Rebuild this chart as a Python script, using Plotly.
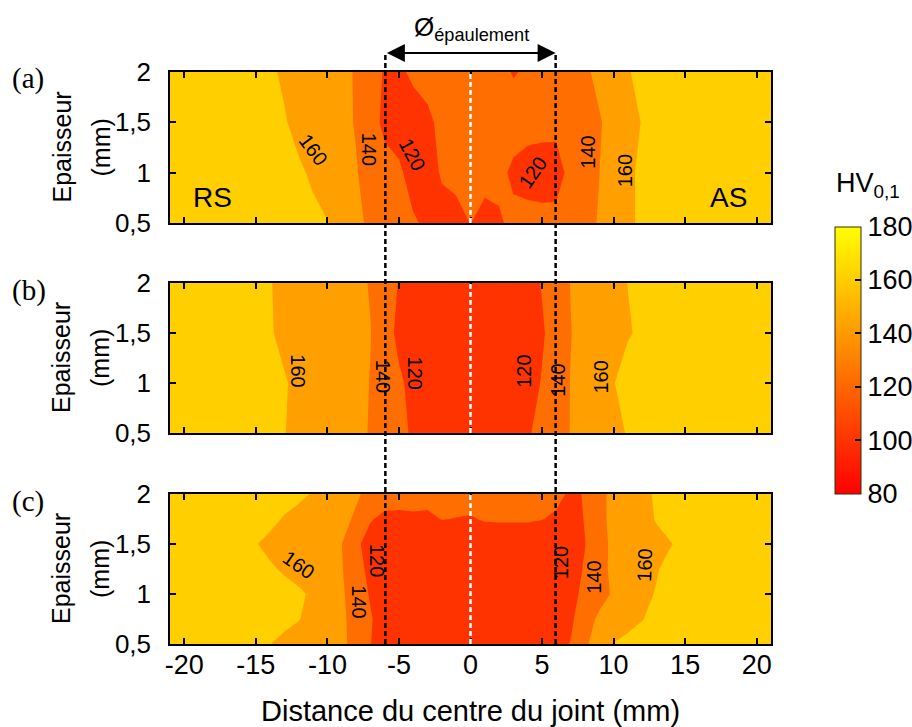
import plotly.graph_objects as go

# ---------------- data ----------------
XS = [-21, -17, -15, -14, -13, -12, -11, -10, -9, -8, -7, -6, -5, -4, -3, -2, -1, 0,
      1, 2, 3, 4, 5, 6, 7, 8, 9, 10, 11, 12, 13, 14, 15, 17, 21]
Y_AB = [0.5, 1.0, 1.5, 2.0]
Y_C = [0.5, 0.75, 1.0, 1.25, 1.5, 1.75, 2.0]

# (a)
HV_A_05 = [172, 171, 169, 168, 167, 165, 163, 160.5, 156, 145, 136, 131, 126, 122, 117, 113, 114, 120.5,
           112, 118, 124, 126, 126, 126, 130, 136, 141, 150, 158, 162, 166, 168, 170, 171, 172]
HV_A_10 = [172, 170, 167, 165, 163, 162, 158, 153, 147, 141, 134, 128, 123, 113, 112, 122, 125, 128,
           128, 124, 117, 113, 111, 112, 126, 134, 139.8, 149, 156, 164, 167, 169, 170, 171, 172]
HV_A_15 = [172, 170, 166, 164, 161, 156, 151, 147, 144, 139, 129, 115, 112, 110, 116, 125, 128, 129,
           129, 128, 127, 126, 126, 125, 130, 134, 139, 144, 152, 161, 166, 168, 170, 171, 172]
HV_A_20 = [172, 170, 166, 162, 158, 154, 150, 146, 143, 139, 131, 118, 116, 124, 127, 128, 128, 128,
           127, 124, 119, 122, 126, 130, 134, 138, 143, 151, 159, 164, 167, 168, 170, 171, 172]

# (b)
HV_B_05 = [172, 170, 166, 163, 160.3, 157, 154, 151, 148, 144, 139, 133, 126, 117, 110, 107, 106, 106,
           106, 108, 112, 118, 126, 133, 140.5, 146, 151, 156, 161, 164, 167, 169, 170, 171, 172]
HV_B_10 = [172, 170, 166, 164, 161, 157, 154, 152, 149, 145, 139.5, 132, 124, 113, 108, 106, 105, 105,
           105, 106, 108, 113, 121, 131, 140.5, 147, 153, 159.5, 165, 167, 168, 169, 170, 171, 172]
HV_B_15 = [172, 170, 165, 161, 157, 155, 153, 151, 148, 145, 140.5, 131, 114, 109, 106, 105, 104, 104,
           104, 105, 107, 111, 118, 128, 139.5, 146, 151, 155, 159, 162, 166, 168, 170, 171, 172]
HV_B_20 = [172, 170, 166, 160.5, 157, 155, 153, 151, 148, 144, 139, 130, 119, 112, 108, 106, 105, 105,
           105, 106, 108, 113, 121, 131, 140.5, 146, 151, 155, 160.2, 164, 167, 169, 170, 171, 172]

# (c)
HV_C_050 = [172, 168, 163, 160.2, 157, 154, 151, 148, 143, 135, 120.5, 110, 107, 107, 107, 107, 107, 107,
            107, 107, 107, 107, 108, 110, 121, 136, 152, 160.5, 164, 166, 167, 168, 169, 170, 172]
HV_C_075 = [172, 170, 167, 165, 163, 160.5, 156, 150, 143, 134, 122, 110, 106, 106, 106, 106, 106, 106,
            106, 106, 106, 106, 106, 107, 116, 133, 143, 150, 155, 159.5, 164, 166, 168, 170, 172]
HV_C_100 = [172, 170, 168, 166, 164, 162, 158, 150, 142, 133, 118, 108, 106, 106, 106, 106, 106, 106,
            106, 106, 106, 106, 106, 106, 114, 125, 134, 142, 149, 156, 161, 165, 167, 170, 172]
HV_C_125 = [172, 168, 164, 161.5, 158.5, 155, 151, 147, 141, 129, 114, 108, 106, 106, 106, 106, 106, 106,
            106, 106, 106, 106, 106, 107, 111, 122, 134, 144, 150, 155, 159, 164, 166, 169, 172]
HV_C_150 = [172, 167, 160.5, 157, 154, 151, 148, 145, 140.3, 124, 112, 108, 107, 107, 107, 108, 108, 108,
            108, 108, 108, 108, 108, 109, 112, 119.5, 135, 143, 149, 153, 156, 159.5, 163, 168, 172]
HV_C_175 = [172, 170, 166, 163, 159, 155, 151, 147, 144, 138, 121.5, 116, 116, 117, 116, 120.5, 119.5, 118.5,
            121.5, 122, 122, 122, 120.5, 117, 112, 121, 137, 143, 149, 155, 161, 165, 168, 170, 172]
HV_C_200 = [172, 171, 169, 167, 165, 163, 159, 153, 148, 142, 136, 128, 127, 127, 127, 128, 128, 128,
            127, 127, 127, 127, 126, 125, 117, 121, 137, 143, 150, 156, 162, 166, 168, 171, 172]

HV_A = [HV_A_05, HV_A_10, HV_A_15, HV_A_20]
HV_B = [HV_B_05, HV_B_10, HV_B_15, HV_B_20]
HV_C = [HV_C_050, HV_C_075, HV_C_100, HV_C_125, HV_C_150, HV_C_175, HV_C_200]

# contour-level labels (level, x, y, angle) as placed in the picture
LABELS_A = [(160, -10.96, 1.23, 53), (140, -7.04, 1.23, 90), (120, -4.03, 1.18, 62),
            (120, 4.31, 1.00, -55), (140, 8.16, 1.20, -90), (160, 10.77, 1.02, -90)]
LABELS_B = [(160, -12.08, 1.12, 90), (140, -6.10, 1.07, 90), (120, -3.85, 1.10, 90),
            (120, 3.73, 1.12, -90), (140, 6.10, 1.03, -90), (160, 9.09, 1.06, -90)]
LABELS_C = [(160, -12.0, 1.29, 35), (120, -6.53, 1.34, 90), (140, -7.81, 0.92, 90),
            (120, 6.34, 1.31, -90), (140, 8.62, 1.17, -90), (160, 12.17, 1.29, -88)]

X_TICKS = [-20, -15, -10, -5, 0, 5, 10, 15, 20]
X_TICKTEXT = ['-20', '-15', '-10', '-5', '0', '5', '10', '15', '20']
Y_TICKS = [0.5, 1, 1.5, 2]
Y_TICKTEXT = ['0,5', '1', '1,5', '2']
CBAR_TICKS = [80, 100, 120, 140, 160, 180]
PANEL_LABELS = ['(a)', '(b)', '(c)']
SHOULDER = [-5.95, 5.95]

# ---------------- styles ----------------
FONT = 'Liberation Sans'
SERIF = 'Liberation Serif'
FILL_SCALE = [[0.0, '#FF0000'], [0.25, '#FF3300'], [0.5, '#FF6E00'],
              [0.75, '#FFA000'], [1.0, '#FFCF00']]
BAR_SCALE = [[0.0, '#FF0000'], [1.0, '#FFFF00']]

W, H = 912, 727
ML, MR, MT, MB = 170, 141, 72, 83
PW = W - ML - MR
PH = H - MT - MB


def ypap(py):
    return (H - MB - py) / PH


def xpap(px):
    return (px - ML) / PW


PANELS = [
    ('x', 'y', HV_A, Y_AB, (72, 223), LABELS_A),
    ('x2', 'y2', HV_B, Y_AB, (283, 433), LABELS_B),
    ('x3', 'y3', HV_C, Y_C, (494, 644), LABELS_C),
]

fig = go.Figure()
for xa, ya, z, yv, _, _ in PANELS:
    fig.add_trace(go.Contour(
        x=XS, y=yv, z=z, xaxis=xa, yaxis=ya,
        autocontour=False,
        contours=dict(start=100, end=160, size=20, coloring='fill',
                      showlines=False, showlabels=False),
        line=dict(width=0, smoothing=0),
        colorscale=FILL_SCALE, showscale=False, hoverinfo='skip'))

# colour bar (continuous)
fig.add_trace(go.Scatter(
    x=[None], y=[None], xaxis='x3', yaxis='y3', mode='markers', hoverinfo='skip',
    showlegend=False,
    marker=dict(color=[80], cmin=80, cmax=180, colorscale=BAR_SCALE, showscale=True,
                colorbar=dict(thickness=26, thicknessmode='pixels', len=267, lenmode='pixels',
                              x=xpap(835), xanchor='left', y=ypap(360), yanchor='middle',
                              xpad=0, ypad=0, outlinewidth=1, outlinecolor='#3a2a10',
                              tickvals=CBAR_TICKS, ticks='inside', ticklen=6, tickwidth=1.5,
                              tickcolor='black',
                              tickfont=dict(family=FONT, size=27, color='black'))),
))

layout = dict(
    width=W, height=H, margin=dict(l=ML, r=MR, t=MT, b=MB, autoexpand=False),
    paper_bgcolor='white', plot_bgcolor='white', showlegend=False,
    font=dict(family=FONT, color='black'),
)
shapes = []
annotations = []
for i, (xa, ya, z, yv, (top, bot), labels) in enumerate(PANELS):
    xkey = 'xaxis' + xa[1:]
    ykey = 'yaxis' + ya[1:]
    layout[xkey] = dict(range=[-21, 21], tickvals=X_TICKS, ticktext=X_TICKTEXT, ticks='inside',
                        ticklen=6, tickwidth=1.5, tickcolor='black', showline=True,
                        linecolor='black', linewidth=1.5, mirror='ticks', showgrid=False,
                        zeroline=False, anchor=ya, showticklabels=(i == 2),
                        ticklabelstandoff=-4,
                        tickfont=dict(family=FONT, size=27, color='black'))
    layout[ykey] = dict(range=[0.5, 2], tickvals=Y_TICKS, ticktext=Y_TICKTEXT, ticks='inside',
                        ticklen=6, tickwidth=1.5, tickcolor='black', showline=True,
                        linecolor='black', linewidth=1.5, mirror='ticks', showgrid=False,
                        zeroline=False, anchor=xa, domain=[ypap(bot), ypap(top)],
                        ticklabelstandoff=12,
                        tickfont=dict(family=FONT, size=26, color='black'))
    # white centre line
    shapes.append(dict(type='line', xref=xa, yref=ya, x0=0, x1=0, y0=0.5, y1=2,
                       line=dict(color='white', width=2.5, dash='5px,3px'), layer='above'))
    for lev, lx, ly, ang in labels:
        annotations.append(dict(text=str(lev), xref=xa, yref=ya, x=lx, y=ly, textangle=ang,
                                showarrow=False, xanchor='center', yanchor='middle',
                                font=dict(family=FONT, size=20, color='black')))
    cy = ypap((top + bot) / 2)
    annotations.append(dict(text='Epaisseur', xref='paper', yref='paper', x=xpap(61), y=cy,
                            textangle=-90, showarrow=False, xanchor='center', yanchor='middle',
                            font=dict(family=FONT, size=25)))
    annotations.append(dict(text='(mm)', xref='paper', yref='paper', x=xpap(100), y=cy,
                            textangle=-90, showarrow=False, xanchor='center', yanchor='middle',
                            font=dict(family=FONT, size=25)))
    annotations.append(dict(text=PANEL_LABELS[i], xref='paper', yref='paper', x=xpap(10),
                            y=ypap(top + 7), showarrow=False, xanchor='left', yanchor='middle',
                            font=dict(family=SERIF, size=29)))

for xs in SHOULDER:
    shapes.append(dict(type='line', xref='x3', yref='paper', x0=xs, x1=xs, y0=0, y1=ypap(53),
                       line=dict(color='black', width=2.5, dash='5px,3px'), layer='above'))

annotations += [
    dict(text='', xref='x3', yref='paper', x=SHOULDER[1], y=ypap(53), axref='x3', ax=SHOULDER[0],
         ayref='pixel', ay=0, showarrow=True, arrowside='end+start', arrowhead=2, arrowsize=1.8,
         arrowwidth=2, arrowcolor='black'),
    dict(text='Ø<sub>épaulement</sub>', xref='paper', yref='paper', x=xpap(471), y=ypap(29),
         showarrow=False, xanchor='center', yanchor='middle', font=dict(family=FONT, size=26)),
    dict(text='RS', xref='x', yref='y', x=-18, y=0.75, showarrow=False,
         font=dict(family=FONT, size=28)),
    dict(text='AS', xref='x', yref='y', x=18, y=0.75, showarrow=False,
         font=dict(family=FONT, size=28)),
    dict(text='Distance du centre du joint (mm)', xref='paper', yref='paper', x=xpap(470),
         y=ypap(711), showarrow=False, xanchor='center', yanchor='middle',
         font=dict(family=FONT, size=29)),
    dict(text='HV<sub>0,1</sub>', xref='paper', yref='paper', x=xpap(868), y=ypap(185),
         showarrow=False, xanchor='center', yanchor='middle', font=dict(family=FONT, size=27)),
]
layout['shapes'] = shapes
layout['annotations'] = annotations
fig.update_layout(**layout)
fig.write_html('out.html', config={'displayModeBar': False},
               post_script="document.body.style.margin='0px';")
